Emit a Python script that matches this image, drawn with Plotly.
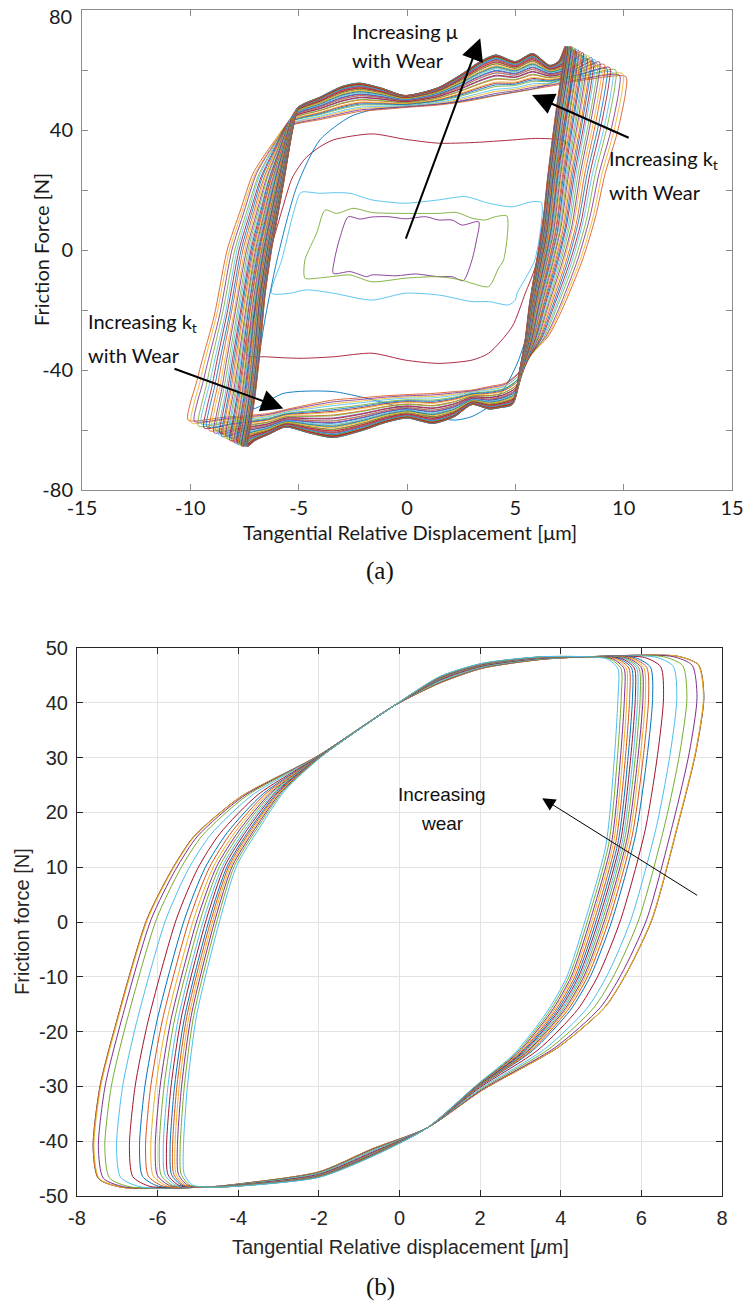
import plotly.graph_objects as go
import numpy as np

MATLAB = ['#0072BD', '#D95319', '#EDB120', '#7E2F8E', '#77AC30', '#4DBEEE', '#A2142F']

# ======================= (a) data =======================
# early individual loops (x in um, y in N)
a_purple_x = [-2.71, -2.17, -1.62, -0.85, -0.08, 0.85, 1.46, 2.08, 2.54, 3.31, 3.2, 3.0, 2.6, 2.08, 1.46, 0.38, -0.5, -1.62, -1.86, -2.63, -3.4, -3.35, -3.1, -2.71]
a_purple_y = [11.1, 10.3, 11.0, 11.1, 10.4, 11.1, 10.0, 10.0, 8.3, 9.4, 3.0, -3.3, -10.2, -8.9, -8.9, -8.0, -8.6, -8.3, -8.9, -7.2, -7.8, -3.3, 4.0, 11.1]

a_green_x = [-3.78, -3.25, -2.48, -1.62, -0.08, 1.46, 2.3, 3.0, 3.6, 4.08, 4.61, 4.46, 4.23, 3.77, 3.0, 2.5, 1.46, -0.08, -1.62, -2.63, -3.4, -4.17, -4.71, -4.71, -4.17, -3.78]
a_green_y = [13.3, 12.2, 13.9, 12.5, 12.2, 12.2, 12.5, 10.6, 10.0, 11.1, 11.3, -3.3, -6.0, -12.2, -11.1, -10.0, -8.9, -9.4, -10.6, -8.3, -8.8, -9.4, -9.4, -3.3, 5.6, 13.3]

a_cyan_x = [-4.94, -4.79, -4.02, -3.4, -2.63, -1.62, -0.08, 1.46, 2.69, 3.77, 4.85, 5.77, 6.2, 5.9, 5.08, 5.0, 4.69, 3.77, 3.0, 1.46, -0.08, -1.62, -3.4, -4.63, -5.4, -6.25, -5.78, -5.25, -4.94]
a_cyan_y = [18.9, 19.4, 18.9, 19.1, 18.9, 16.7, 15.6, 16.7, 17.8, 15.6, 14.4, 16.1, 15.8, -3.3, -14.4, -16.7, -18.3, -17.2, -17.2, -15.0, -14.4, -16.7, -14.4, -13.3, -14.4, -14.4, -3.3, 12.2, 18.9]

a_red_x = [-4.02, -3.4, -1.62, -0.08, 1.46, 3.0, 4.54, 6.08, 7.31, 7.0, 6.4, 5.92, 5.46, 4.85, 3.77, 3.0, 1.46, -0.08, -1.62, -3.4, -4.94, -6.48, -7.4, -7.0, -6.3, -5.7, -5.3, -4.7, -4.02]
a_red_y = [34.4, 36.7, 38.7, 36.9, 35.6, 35.8, 36.5, 37.2, 36.1, 30.0, 15.0, -5.6, -14.4, -25.6, -34.4, -36.7, -37.8, -36.7, -34.4, -35.6, -36.1, -35.6, -35.0, -20.0, 0.0, 15.0, 24.0, 30.5, 34.4]

a_blue_x = [-6.0, -5.09, -4.02, -2.63, -1.62, 0.0, 2.0, 4.0, 6.0, 7.5, 7.2, 6.6, 6.0, 5.77, 5.15, 4.54, 3.77, 3.0, 2.23, 1.15, -0.5, -3.4, -5.71, -7.09, -7.0, -6.6, -6.0]
a_blue_y = [-3.3, 21.1, 36.7, 44.4, 46.7, 48.0, 49.0, 51.5, 54.0, 57.0, 40.0, 15.0, -10.0, -22.2, -36.7, -45.6, -52.2, -55.5, -56.7, -55.6, -52.0, -47.2, -47.8, -52.8, -45.0, -25.0, -3.3]

# saturated bundle: innermost (late, stiff, high mu) and outermost (early) loops
a_inner_x = [-5.0, -4.0, -3.0, -2.2, -1.2, -0.1, 1.4, 2.5, 3.3, 4.1, 5.0, 5.8, 6.6, 7.0, 7.3,
             7.15, 6.85, 6.5, 6.2, 5.95, 5.65, 5.45, 5.2, 4.85,
             4.3, 3.8, 3.0, 2.2, 1.2, 0.0, -1.0, -2.0, -3.4, -4.5, -5.6, -6.4, -7.0, -7.35,
             -7.2, -7.0, -6.8, -6.55, -6.25, -5.95, -5.7, -5.45, -5.25, -5.0]
a_inner_y = [47.5, 51.0, 54.5, 55.6, 54.0, 51.5, 54.0, 58.5, 62.5, 65.0, 62.8, 65.5, 61.5, 63.0, 68.0,
             60.0, 45.0, 25.0, 5.0, -5.0, -18.0, -30.0, -40.0, -51.5,
             -52.5, -53.0, -51.5, -55.5, -57.8, -56.0, -57.5, -60.0, -62.5, -61.0, -59.0, -61.5, -63.5, -65.5,
             -58.0, -48.0, -35.0, -15.0, 0.0, 12.0, 22.0, 33.0, 41.0, 47.5]
a_outer_x = [-5.6, -4.0, -3.0, -2.2, -1.2, -0.1, 1.4, 2.5, 3.3, 4.1, 5.0, 5.8, 6.6, 8.5, 10.1,
             10.1, 9.7, 9.15, 8.7, 8.1, 7.15, 6.5, 5.77, 5.2,
             4.54, 3.8, 3.0, 2.2, 1.2, 0.0, -1.0, -2.0, -3.4, -4.5, -5.6, -6.4, -8.5, -10.1,
             -10.0, -9.75, -9.5, -8.9, -8.3, -7.7, -7.1, -6.4, -6.0, -5.6]
a_outer_y = [41.0, 43.5, 45.0, 46.2, 46.8, 47.5, 48.3, 49.3, 50.3, 51.5, 52.6, 53.6, 54.6, 57.0, 57.8,
             53.0, 39.0, 25.6, 11.0, -3.3, -20.0, -29.0, -34.4, -40.5,
             -44.4, -45.5, -46.7, -47.2, -47.8, -48.2, -48.6, -49.2, -50.0, -51.5, -53.2, -54.5, -55.8, -56.7,
             -51.0, -45.0, -38.0, -22.0, 0.0, 13.0, 25.6, 33.5, 37.5, 41.0]
# top-right reversal x of each bundle loop, in drawing order
a_bundle_corner_x = [10.10, 9.95, 9.80, 9.62, 9.48, 9.35, 9.22, 9.10, 8.98, 8.88, 8.78, 8.68, 8.60,
                     8.52, 8.45, 8.38, 8.31, 8.25, 8.19, 8.13, 8.07, 8.02, 7.97, 7.92, 7.88, 7.84,
                     7.80, 7.76, 7.72, 7.69, 7.66, 7.63, 7.60, 7.57, 7.55, 7.52, 7.50, 7.48, 7.46,
                     7.44, 7.42, 7.40, 7.38, 7.36, 7.35, 7.34, 7.33, 7.32, 7.31, 7.30]
# relative friction level of each bundle loop (0 = lowest band line, 1 = highest)
a_bundle_mu_frac = [0.00, 0.10, 0.05, 0.22, 0.15, 0.30, 0.26, 0.40, 0.33, 0.48, 0.42, 0.55, 0.50,
                    0.62, 0.56, 0.68, 0.60, 0.72, 0.66, 0.78, 0.70, 0.82, 0.74, 0.86, 0.79, 0.90,
                    0.83, 0.92, 0.87, 0.95, 0.89, 0.97, 0.91, 0.99, 0.93, 1.00, 0.95, 0.98, 0.94,
                    1.00, 0.96, 0.99, 0.97, 1.00, 0.98, 0.99, 1.00, 0.97, 1.00, 0.99]

a_xticks = [-15, -10, -5, 0, 5, 10, 15]
a_xticklabels = ['-15', '-10', '-5', '0', '5', '10', '15']
a_yticks = [-80, -60, -40, -20, 0, 20, 40, 60, 80]
a_yticklabels = ['-80', '', '-40', '', '0', '', '40', '', '']
a_top_ylabel = '80'

# ======================= (b) data =======================
b_outer_x = [4.65, 6.9, 7.42, 7.55, 7.35, 6.95, 6.26, 5.62, 5.1, 3.95, 2.05, 0.68, -0.68, -2.0, -3.99,
             -4.65, -6.9, -7.47, -7.6, -7.43, -7.05, -6.27, -5.65, -5.1, -3.95, -2.05, -0.15, 1.0, 2.05, 3.5]
b_outer_y = [48.4, 48.5, 46.9, 41.0, 31.0, 19.0, 0.4, -9.5, -15.5, -22.8, -30.7, -37.6, -41.4, -45.6, -47.8,
             -48.3, -48.4, -46.8, -41.0, -30.0, -19.0, 0.4, 9.5, 15.6, 22.8, 30.2, 39.4, 43.6, 46.3, 47.9]
b_inner_x = [4.65, 5.15, 5.42, 5.42, 5.33, 5.12, 4.61, 4.15, 3.65, 2.85, 1.9, 0.68, -0.68, -2.0, -3.99,
             -4.65, -5.15, -5.36, -5.38, -5.28, -5.05, -4.47, -4.05, -3.5, -2.85, -1.9, -0.15, 1.0, 2.05, 3.5]
b_inner_y = [48.4, 48.0, 46.2, 41.0, 30.0, 14.0, 0.4, -10.0, -16.5, -24.0, -29.8, -37.6, -42.8, -46.6, -48.2,
             -48.4, -48.0, -46.0, -41.0, -30.0, -17.0, 0.4, 10.3, 17.0, 24.0, 30.4, 39.4, 44.8, 47.2, 48.4]
# right / left reversal displacement of each loop (outer -> inner, drawing order)
b_right_extent = [7.55, 7.55, 7.54, 7.38, 7.13, 6.88, 6.55, 6.28, 6.18, 6.10, 6.04, 5.97, 5.91, 5.85,
                  5.78, 5.71, 5.64, 5.58, 5.50, 5.42]
b_left_extent = [-7.60, -7.60, -7.58, -7.47, -7.31, -7.02, -6.70, -6.45, -6.30, -6.17, -6.06, -5.96,
                 -5.86, -5.78, -5.69, -5.63, -5.57, -5.51, -5.44, -5.36]
b_xticks = [-8, -6, -4, -2, 0, 2, 4, 6, 8]
b_xticklabels = ['-8', '-6', '-4', '-2', '0', '2', '4', '6', '8']
b_yticks = [-50, -40, -30, -20, -10, 0, 10, 20, 30, 40, 50]
b_yticklabels = ['-50', '-40', '-30', '-20', '-10', '0', '10', '20', '30', '40', '50']

# ======================= figure =======================
fig = go.Figure()

def loop_trace(xs, ys, color, xa, ya, width):
    return go.Scatter(x=xs, y=ys, mode='lines', xaxis=xa, yaxis=ya, hoverinfo='skip',
                      line=dict(color=color, width=width, shape='spline', smoothing=0.7))

# (a) early loops
for xs, ys, ci in [(a_purple_x, a_purple_y, 3), (a_green_x, a_green_y, 4), (a_cyan_x, a_cyan_y, 5),
                   (a_red_x, a_red_y, 6), (a_blue_x, a_blue_y, 0)]:
    fig.add_trace(loop_trace(xs, ys, MATLAB[ci], 'x', 'y', 0.9))

# (a) bundle
ix, iy = np.array(a_inner_x), np.array(a_inner_y)
ox, oy = np.array(a_outer_x), np.array(a_outer_y)
cx_out, cx_in = a_outer_x[14], a_inner_x[14]
for k, (cx, mu) in enumerate(zip(a_bundle_corner_x, a_bundle_mu_frac)):
    s = (cx_out - cx) / (cx_out - cx_in)
    xs = ox + s * (ix - ox)
    ys = oy + mu * (iy - oy)
    fig.add_trace(loop_trace(xs, ys, MATLAB[(k + 1) % 7], 'x', 'y', 0.85))

# (b) loops
bix, biy = np.array(b_inner_x), np.array(b_inner_y)
box_, boy = np.array(b_outer_x), np.array(b_outer_y)
order = list(range(2, 30)) + [0, 1, 2]
for k, (xr, xl) in enumerate(zip(b_right_extent, b_left_extent)):
    tR = (xr - b_inner_x[3]) / (b_outer_x[3] - b_inner_x[3])
    tL = (xl - b_inner_x[18]) / (b_outer_x[18] - b_inner_x[18])
    t = np.full(30, (tR + tL) / 2)
    t[1:11] = tR
    t[16:26] = tL
    xs = bix + t * (box_ - bix)
    ys = biy + t * (boy - biy)
    fig.add_trace(loop_trace(xs[order], ys[order], MATLAB[k % 7], 'x2', 'y2', 1.0))

H = 1310.0
W = 744.0
def px(xp): return xp / W
def py(yp): return 1 - yp / H

topfont = dict(family='Lato', size=20, color='#1a1a1a')
botfont = dict(family='Liberation Sans', size=20, color='#262626')

common_a = dict(ticks='inside', ticklen=6, tickcolor='#8c8c8c', showline=True, linecolor='#8c8c8c',
                linewidth=1, mirror='ticks', showgrid=False, zeroline=False, tickfont=topfont,
                automargin=False, ticklabeloverflow='allow')
common_b = dict(ticks='inside', ticklen=6, tickcolor='#262626', showline=True, linecolor='#262626',
                linewidth=1, mirror='ticks', showgrid=True, gridcolor='#e3e3e3', gridwidth=1,
                zeroline=False, tickfont=botfont, automargin=False, ticklabeloverflow='allow')

fig.update_layout(
    width=744, height=1310, margin=dict(l=0, r=0, t=0, b=0, autoexpand=False),
    paper_bgcolor='white', plot_bgcolor='white', showlegend=False,
    xaxis=dict(domain=[px(82), px(732)], range=[-15, 15], tickvals=a_xticks, ticktext=a_xticklabels,
               ticklabelstandoff=0, **common_a),
    yaxis=dict(domain=[py(490), py(10)], range=[-80, 80], tickvals=a_yticks, ticktext=a_yticklabels,
               ticklabelstandoff=4, **common_a),
    xaxis2=dict(domain=[px(77), px(722)], range=[-8, 8], tickvals=b_xticks, ticktext=b_xticklabels,
                anchor='y2', ticklabelstandoff=4, **common_b),
    yaxis2=dict(domain=[py(1196), py(648)], range=[-50, 50], tickvals=b_yticks, ticktext=b_yticklabels,
                anchor='x2', ticklabelstandoff=4, **common_b),
)

ann = []
def txt(text, x, y, font, xanchor='center', angle=0):
    ann.append(dict(text=text, x=x, y=y, xref='paper', yref='paper', showarrow=False,
                    xanchor=xanchor, yanchor='middle', font=font, textangle=angle))

tf = dict(family='Lato', size=20, color='#1a1a1a')
bf = dict(family='Liberation Sans', size=20, color='#262626')
txt(a_top_ylabel, px(74), py(16), topfont, xanchor='right')
txt('Tangential Relative Displacement [μm]', px(410), py(532), tf)
txt('Friction Force [N]', px(41), py(250), tf, angle=-90)
txt('(a)', px(380), py(571), dict(family='Liberation Serif', size=25, color='#111'))
txt('Tangential Relative displacement [<i>μ</i>m]', px(400), py(1247), bf)
txt('Friction force [N]', px(22), py(922), bf, angle=-90)
txt('(b)', px(380), py(1287), dict(family='Liberation Serif', size=25, color='#111'))

af = dict(family='Lato', size=20, color='#111')
txt('Increasing μ', px(350), py(31), af, xanchor='left')
txt('with Wear', px(350), py(60), af, xanchor='left')
txt('Increasing k<sub>t</sub>', px(607), py(160), af, xanchor='left')
txt('with Wear', px(607), py(192), af, xanchor='left')
txt('Increasing k<sub>t</sub>', px(86), py(322), af, xanchor='left')
txt('with Wear', px(86), py(355), af, xanchor='left')
txt('Increasing', px(442), py(795), dict(family='Liberation Sans', size=19, color='#111'))
txt('wear', px(442), py(823), dict(family='Liberation Sans', size=19, color='#111'))

def arrow(x, y, ax, ay, xr, yr, width, size):
    ann.append(dict(x=x, y=y, ax=ax, ay=ay, xref=xr, yref=yr, axref=xr, ayref=yr, text='',
                    showarrow=True, arrowhead=2, arrowsize=size, arrowwidth=width, arrowcolor='black'))

arrow(3.38, 70.6, -0.08, 3.3, 'x', 'y', 2, 2.2)
arrow(5.77, 51.7, 10.3, 37.2, 'x', 'y', 2, 2.2)
arrow(-5.71, -52.8, -10.8, -39.4, 'x', 'y', 2, 2.2)
arrow(3.54, 22.6, 7.42, 4.7, 'x2', 'y2', 1, 2.6)

fig.update_layout(annotations=ann)

fig.write_html("out.html", config={'displayModeBar': False},
               post_script="document.body.style.margin='0';document.body.style.overflow='hidden';")
